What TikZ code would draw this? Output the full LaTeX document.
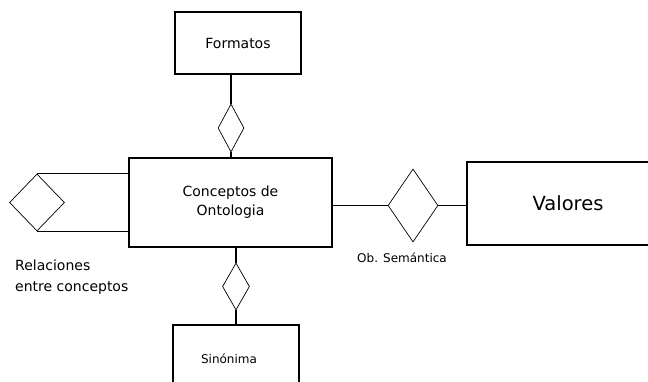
\documentclass[tikz,border=0pt]{standalone}
\usepackage{fontspec}
\setmainfont{DejaVu Sans}
\usetikzlibrary{shapes.geometric,positioning}

\begin{document}
\begin{tikzpicture}[x=1pt,y=-1pt]
       \tikzstyle{entidad}=[draw, rectangle, line width=1.2pt, inner sep=0pt]
       \tikzstyle{relacion}=[draw, diamond, line width=0.7pt, inner sep=0pt]
       \tikzstyle{linea}=[line width=1.2pt]

       \useasboundingbox (0,0) rectangle (648,382);

       \node[entidad, minimum width=126pt, minimum height=62pt,
             font=\fontsize{14}{16}\selectfont] (formatos) at (238,43) {Formatos};
       \node[entidad, minimum width=203pt, minimum height=89pt, align=center,
             font=\fontsize{14}{19}\selectfont] (concepto) at (230.5,202.5) {Conceptos de\\Ontologia};
       \node[entidad, minimum width=202pt, minimum height=83pt,
             font=\fontsize{19.5}{22}\selectfont] (valores) at (568,203.5) {Valores};
       \node[entidad, minimum width=126pt, minimum height=140pt] (sinonima) at (236,395) {};
       \node[font=\fontsize{12}{14}\selectfont] (tSin) at (229,359) {Sinónima};

       \node[relacion, minimum width=26pt, minimum height=48pt] (dF) at (231,128) {};
       \node[relacion, minimum width=55pt, minimum height=57pt] (dR) at (37,202.5) {};
       \node[relacion, minimum width=27pt, minimum height=47pt] (dS) at (236,286.5) {};
       \node[relacion, minimum width=50pt, minimum height=73pt] (dO) at (413,205.5) {};

       \node[align=left, anchor=west, inner sep=0pt,
             font=\fontsize{14}{21}\selectfont] (tRel) at (15,277.5) {Relaciones\\entre conceptos};
       \node[font=\fontsize{12}{14}\selectfont] (tOb) at (402,258) {Ob. Semántica};

       \path[linea]
       (dF.north |- formatos.south) edge (dF.north)
       (dF.south) edge (dF.south |- concepto.north)
       (dR.north) edge (dR.north -| concepto.west)
       (dR.south) edge (dR.south -| concepto.west)
       (dS.north |- concepto.south) edge (dS.north)
       (dS.south) edge (dS.south |- sinonima.north)
       (dO.west -| concepto.east) edge (dO.west)
       (dO.east) edge (dO.east -| valores.west);
     \end{tikzpicture}
\end{document}
